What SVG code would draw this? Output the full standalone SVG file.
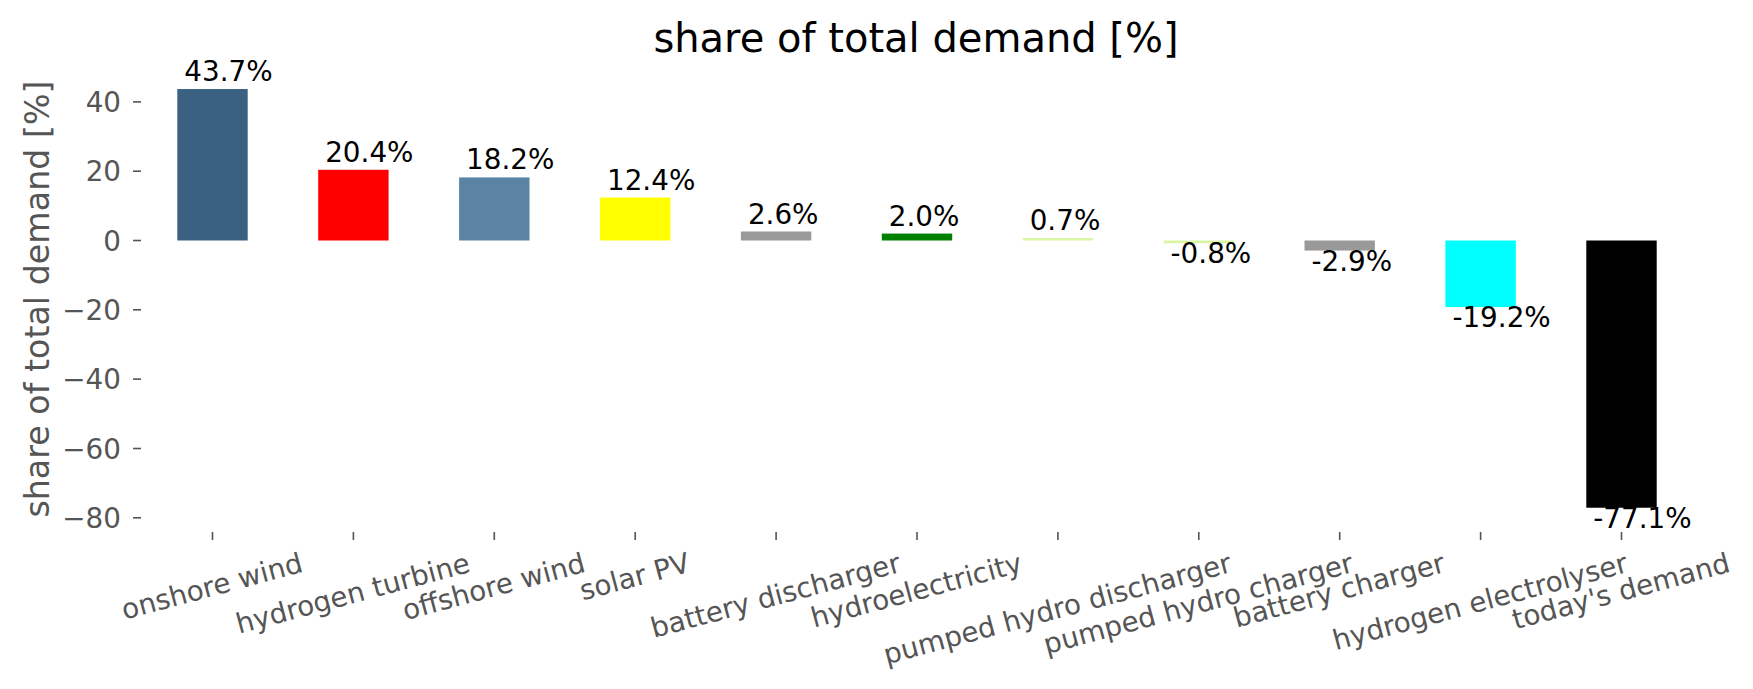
<svg xmlns="http://www.w3.org/2000/svg" width="1753" height="689" viewBox="0 0 1753 689">
<style>
text{font-family:"DejaVu Sans","Liberation Sans",sans-serif}
.tk{stroke:#555555;stroke-width:1.6}
.tl{font-size:27.8px;fill:#555555}
.yl{text-anchor:end}
.xl{text-anchor:middle}
.vl{font-size:27.8px;fill:#000000}
.ttl{font-size:40px;fill:#000000;text-anchor:middle}
.ylab{font-size:33.3px;fill:#555555;text-anchor:middle}
</style>
<rect width="1753" height="689" fill="#ffffff"/>
<text class="ttl" x="916" y="52">share of total demand [%]</text>
<text class="ylab" x="49" y="299" transform="rotate(-90 49 299)">share of total demand [%]</text>
<g id="y-axis">
<line class="tk" x1="133" y1="101.9" x2="141" y2="101.9"/>
<line class="tk" x1="133" y1="171.2" x2="141" y2="171.2"/>
<line class="tk" x1="133" y1="240.5" x2="141" y2="240.5"/>
<line class="tk" x1="133" y1="309.8" x2="141" y2="309.8"/>
<line class="tk" x1="133" y1="379.1" x2="141" y2="379.1"/>
<line class="tk" x1="133" y1="448.5" x2="141" y2="448.5"/>
<line class="tk" x1="133" y1="517.8" x2="141" y2="517.8"/>
<text class="tl yl" x="121" y="111.9">40</text>
<text class="tl yl" x="121" y="181.2">20</text>
<text class="tl yl" x="121" y="250.5">0</text>
<text class="tl yl" x="121" y="319.8">−20</text>
<text class="tl yl" x="121" y="389.1">−40</text>
<text class="tl yl" x="121" y="458.5">−60</text>
<text class="tl yl" x="121" y="527.8">−80</text>
</g>
<g id="connectors"></g>
<g id="bar-onshore-wind">
<rect x="177.3" y="89.04" width="70.4" height="151.46" fill="#3b6182"/>
<text class="vl" x="184.3" y="81">43.7%</text>
<line class="tk" x1="212.5" y1="532" x2="212.5" y2="540"/>
<text class="tl xl" x="212.5" y="595.8" transform="rotate(-15 212.5 588.5)">onshore wind</text>
</g>
<g id="bar-hydrogen-turbine">
<rect x="318.2" y="169.79" width="70.4" height="70.71" fill="#ff0000"/>
<text class="vl" x="325.2" y="161.8">20.4%</text>
<line class="tk" x1="353.4" y1="532" x2="353.4" y2="540"/>
<text class="tl xl" x="353.4" y="602.9" transform="rotate(-15 353.4 595.6)">hydrogen turbine</text>
</g>
<g id="bar-offshore-wind">
<rect x="459.1" y="177.42" width="70.4" height="63.08" fill="#5b83a3"/>
<text class="vl" x="466.1" y="169.4">18.2%</text>
<line class="tk" x1="494.3" y1="532" x2="494.3" y2="540"/>
<text class="tl xl" x="494.3" y="596.1" transform="rotate(-15 494.3 588.8)">offshore wind</text>
</g>
<g id="bar-solar-pv">
<rect x="600" y="197.52" width="70.4" height="42.98" fill="#ffff00"/>
<text class="vl" x="607" y="189.5">12.4%</text>
<line class="tk" x1="635.2" y1="532" x2="635.2" y2="540"/>
<text class="tl xl" x="635.2" y="586.2" transform="rotate(-15 635.2 578.9)">solar PV</text>
</g>
<g id="bar-battery-discharger">
<rect x="740.9" y="231.49" width="70.4" height="9.01" fill="#999999"/>
<text class="vl" x="747.9" y="223.5">2.6%</text>
<line class="tk" x1="776.1" y1="532" x2="776.1" y2="540"/>
<text class="tl xl" x="776.1" y="605" transform="rotate(-15 776.1 597.7)">battery discharger</text>
</g>
<g id="bar-hydroelectricity">
<rect x="881.8" y="233.57" width="70.4" height="6.93" fill="#008000"/>
<text class="vl" x="888.8" y="225.6">2.0%</text>
<line class="tk" x1="917" y1="532" x2="917" y2="540"/>
<text class="tl xl" x="917" y="599.8" transform="rotate(-15 917 592.5)">hydroelectricity</text>
</g>
<g id="bar-pumped-hydro-discharger">
<rect x="1022.7" y="238.07" width="70.4" height="2.43" fill="#d9f7a3"/>
<text class="vl" x="1029.7" y="230.1">0.7%</text>
<line class="tk" x1="1057.9" y1="532" x2="1057.9" y2="540"/>
<text class="tl xl" x="1057.9" y="618.2" transform="rotate(-15 1057.9 610.9)">pumped hydro discharger</text>
</g>
<g id="bar-pumped-hydro-charger">
<rect x="1163.6" y="240.5" width="70.4" height="2.77" fill="#d9f7a3"/>
<text class="vl" x="1170.6" y="263.3">-0.8%</text>
<line class="tk" x1="1198.8" y1="532" x2="1198.8" y2="540"/>
<text class="tl xl" x="1198.8" y="613.1" transform="rotate(-15 1198.8 605.8)">pumped hydro charger</text>
</g>
<g id="bar-battery-charger">
<rect x="1304.5" y="240.5" width="70.4" height="10.05" fill="#999999"/>
<text class="vl" x="1311.5" y="270.6">-2.9%</text>
<line class="tk" x1="1339.7" y1="532" x2="1339.7" y2="540"/>
<text class="tl xl" x="1339.7" y="599.8" transform="rotate(-15 1339.7 592.5)">battery charger</text>
</g>
<g id="bar-hydrogen-electrolyser">
<rect x="1445.4" y="240.5" width="70.4" height="66.55" fill="#00ffff"/>
<text class="vl" x="1452.4" y="327.1">-19.2%</text>
<line class="tk" x1="1480.6" y1="532" x2="1480.6" y2="540"/>
<text class="tl xl" x="1480.6" y="611.1" transform="rotate(-15 1480.6 603.8)">hydrogen electrolyser</text>
</g>
<g id="bar-todays-demand">
<rect x="1586.3" y="240.5" width="70.4" height="267.23" fill="#000000"/>
<text class="vl" x="1593.3" y="527.7">-77.1%</text>
<line class="tk" x1="1621.5" y1="532" x2="1621.5" y2="540"/>
<text class="tl xl" x="1621.5" y="600.7" transform="rotate(-15 1621.5 593.4)">today's demand</text>
</g>
</svg>
